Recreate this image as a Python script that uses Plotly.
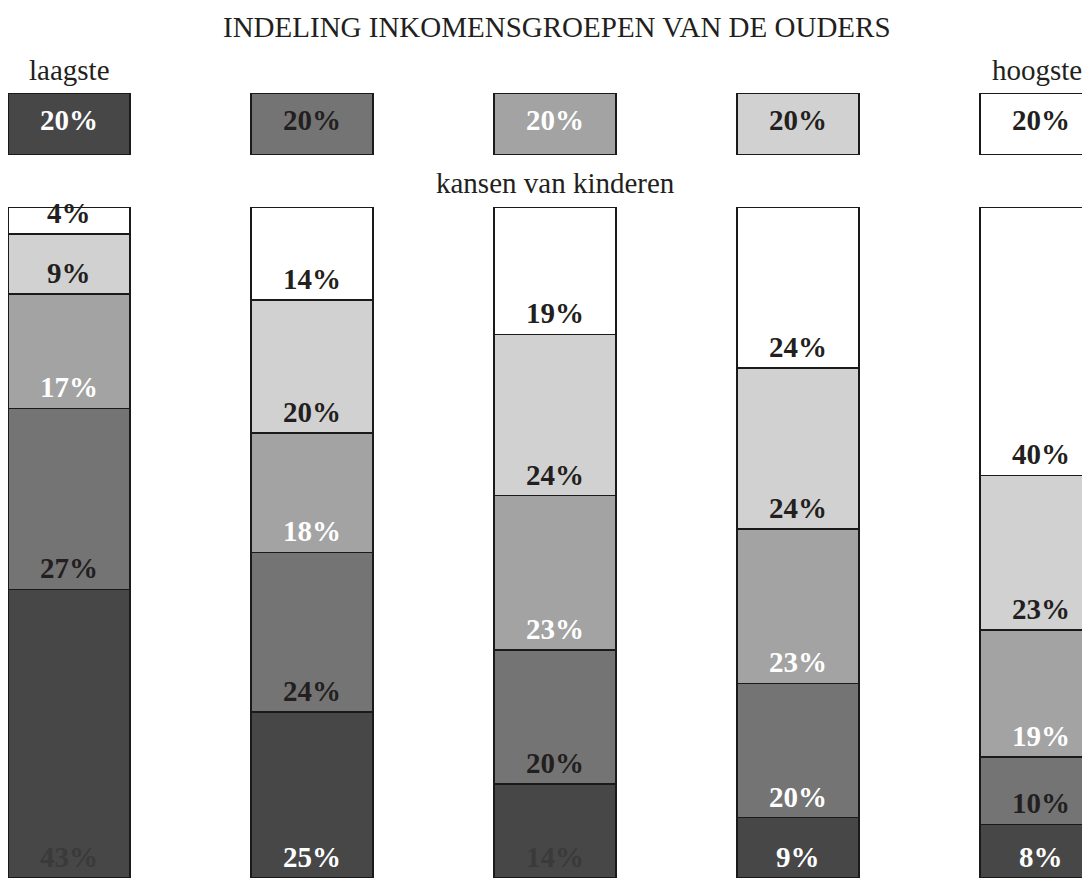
import plotly.graph_objects as go

# ---- data ----
parent_groups = ["laagste", "2", "3", "4", "hoogste"]          # income group of parents
parent_share = [20, 20, 20, 20, 20]                             # top row boxes
child_quintiles = ["laagste", "2e", "3e", "4e", "hoogste"]      # bottom -> top in each bar
# chances[k][i] = % of children of parent group i ending in child quintile k
chances = [
    [43, 25, 14, 9, 8],
    [27, 24, 20, 20, 10],
    [17, 18, 23, 23, 19],
    [9, 20, 24, 24, 23],
    [4, 14, 19, 24, 40],
]
title_text = "INDELING INKOMENSGROEPEN VAN DE OUDERS"
sub_text = "kansen van kinderen"

# ---- styles ----
fills = ["#474747", "#747474", "#a3a3a3", "#d1d1d1", "#ffffff"]
WHITE, BLACK, DARK = "#ffffff", "#231f20", "#3a3a3a"
label_colors = [
    [DARK, WHITE, DARK, WHITE, WHITE],
    [BLACK, BLACK, BLACK, WHITE, BLACK],
    [WHITE, WHITE, WHITE, WHITE, WHITE],
    [BLACK, BLACK, BLACK, BLACK, BLACK],
    [BLACK, BLACK, BLACK, BLACK, BLACK],
]
box_label_colors = [WHITE, BLACK, WHITE, BLACK, BLACK]
FONT = "Liberation Serif, Times New Roman, serif"
LBL = 29
TTL = 29

# page body has an 8px margin; figure sized to end at the window edge
W, H = 1082, 870
OFF = 8

n = len(parent_groups)
totals = [sum(chances[k][i] for k in range(5)) for i in range(n)]
shares = [[chances[k][i] / totals[i] * 100 for i in range(n)] for k in range(5)]
xs = list(range(n))

fig = go.Figure()
for k in range(5):
    fig.add_trace(go.Bar(
        x=xs, y=shares[k], width=0.5, xaxis="x", yaxis="y",
        marker=dict(color=fills[k], line=dict(color="#1a1a1a", width=1.6)),
        name=child_quintiles[k], hoverinfo="skip",
    ))

# top row boxes
fig.add_trace(go.Bar(
    x=xs, y=[1] * n, width=0.5, xaxis="x", yaxis="y2",
    marker=dict(color=fills, line=dict(color="#1a1a1a", width=1.6)),
    hoverinfo="skip", showlegend=False,
))

ann = []
# segment labels
for i in range(n):
    base = 0
    for k in range(5):
        ann.append(dict(
            x=i, y=base, xref="x", yref="y", yanchor="bottom", yshift=3,
            text=f"<b>{chances[k][i]}%</b>", showarrow=False,
            font=dict(family=FONT, size=LBL, color=label_colors[k][i]),
        ))
        base += shares[k][i]
# box labels
for i in range(n):
    ann.append(dict(
        x=i, y=0.5, xref="x", yref="y2", yanchor="middle", yshift=4,
        text=f"<b>{parent_share[i]}%</b>", showarrow=False,
        font=dict(family=FONT, size=LBL, color=box_label_colors[i]),
    ))


def py(win_y):
    return 1 - (win_y - OFF) / H


ann.append(dict(x=(557 - OFF) / W, y=py(27), xref="paper", yref="paper",
                text=title_text, showarrow=False, yanchor="middle",
                font=dict(family=FONT, size=TTL, color="#231f20")))
ann.append(dict(x=2, y=py(183), xref="x", yref="paper",
                text=sub_text, showarrow=False, yanchor="middle",
                font=dict(family=FONT, size=TTL, color="#231f20")))
ann.append(dict(x=0, y=py(70), xref="x", yref="paper",
                text=parent_groups[0], showarrow=False, yanchor="middle",
                font=dict(family=FONT, size=TTL, color="#231f20")))
ann.append(dict(x=n - 1, y=py(70), xref="x", yref="paper", xshift=-4,
                text=parent_groups[-1], showarrow=False, yanchor="middle",
                font=dict(family=FONT, size=TTL, color="#231f20")))

c0 = 69 - OFF          # centre of first bar, figure px
step = 243             # px between bar centres
fig.update_layout(
    width=W, height=H,
    margin=dict(l=0, r=0, t=0, b=0),
    paper_bgcolor="white", plot_bgcolor="white",
    barmode="stack", showlegend=False,
    xaxis=dict(range=[-c0 / step, (W - c0) / step], visible=False, fixedrange=True),
    yaxis=dict(range=[0, 100], domain=[0, py(207)], visible=False, fixedrange=True),
    yaxis2=dict(range=[0, 1], domain=[py(155), py(93)],
                visible=False, fixedrange=True, anchor="x"),
    annotations=ann,
)
fig.write_html("out.html")
